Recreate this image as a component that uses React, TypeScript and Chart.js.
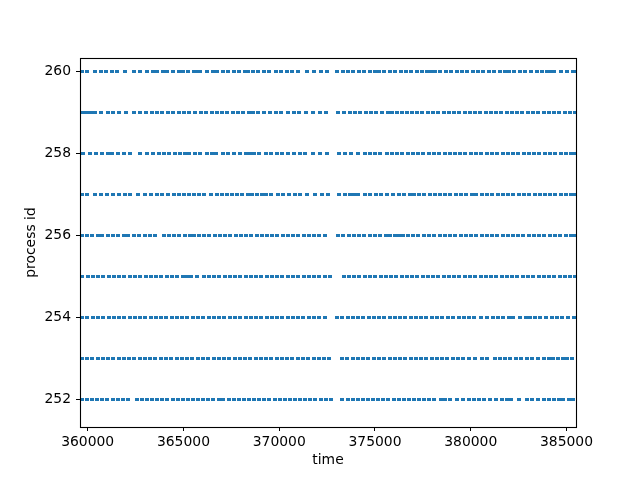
import React, { useEffect, useRef } from "react";
import { Chart, registerables } from "chart.js";

Chart.register(...registerables);

const X_MIN = 359598;
const X_MAX = 385496;
const Y_MIN = 251.32;
const Y_MAX = 260.33;
const X_TICKS = [360000, 365000, 370000, 375000, 380000, 385000];
const Y_TICKS = [252, 254, 256, 258, 260];
const X_LABEL = "time";
const Y_LABEL = "process id";
const MARK_COLOR = "#1f77b4";

const PID_260 = [359720, 359980, 360365, 360680, 360955, 361250, 361530, 361930, 362430, 362745, 363080, 363410, 363630, 363930, 364155, 364450, 364765, 364960, 365235, 365550, 365690, 365845, 366210, 366540, 366765, 367060, 367320, 367640, 367915, 368195, 368370, 368610, 368890, 369220, 369465, 369815, 370090, 370390, 370650, 370995, 371430, 371810, 372180, 372490, 373000, 373310, 373605, 373850, 374145, 374420, 374740, 375000, 375210, 375450, 375780, 376040, 376340, 376600, 376880, 377170, 377430, 377720, 377900, 378110, 378400, 378690, 378950, 379260, 379520, 379800, 380120, 380380, 380640, 380930, 381200, 381520, 381780, 381990, 382280, 382570, 382850, 383150, 383440, 383715, 383960, 384180, 384340, 384710, 385020, 385335, 385465];
const PID_259 = [359740, 359980, 360160, 360380, 360680, 361075, 361320, 361635, 362000, 362430, 362745, 363040, 363355, 363600, 363880, 364190, 364470, 364750, 365025, 365270, 365600, 365900, 366190, 366470, 366735, 367010, 367270, 367570, 367845, 368120, 368420, 368630, 368890, 369200, 369515, 369830, 370090, 370455, 370770, 371030, 371395, 371760, 372125, 372455, 373070, 373380, 373695, 373955, 374230, 374530, 374790, 375050, 375365, 375680, 375885, 376145, 376410, 376650, 376930, 377210, 377480, 377760, 378030, 378300, 378590, 378850, 379140, 379400, 379690, 379960, 380230, 380500, 380790, 381060, 381340, 381600, 381890, 382160, 382420, 382700, 382980, 383250, 383530, 383800, 384080, 384350, 384620, 384900, 385180, 385420];
const PID_258 = [359740, 360135, 360450, 360730, 361060, 361285, 361565, 361880, 362210, 362730, 363095, 363410, 363720, 363965, 364245, 364555, 364800, 365080, 365290, 365600, 365875, 366225, 366470, 366710, 367060, 367305, 367635, 367950, 368280, 368490, 368680, 368945, 369310, 369570, 369885, 370160, 370475, 370770, 371085, 371345, 371760, 372125, 372490, 373120, 373430, 373745, 374110, 374475, 374740, 375000, 375260, 375625, 375885, 376145, 376410, 376720, 376980, 377260, 377530, 377800, 378090, 378350, 378640, 378900, 379180, 379450, 379720, 380010, 380280, 380540, 380830, 381110, 381380, 381660, 381930, 382210, 382470, 382760, 383030, 383300, 383580, 383860, 384130, 384410, 384690, 384960, 385240, 385440];
const PID_257 = [359685, 359980, 360365, 360680, 361025, 361320, 361635, 361945, 362210, 362625, 363005, 363305, 363600, 363895, 364190, 364520, 364780, 365040, 365305, 365565, 365825, 366090, 366420, 366750, 367010, 367270, 367530, 367790, 368050, 368370, 368595, 368840, 369100, 369310, 369570, 369935, 370215, 370510, 370825, 371085, 371465, 371865, 372230, 372545, 373120, 373430, 373695, 373905, 374110, 374475, 374740, 375050, 375310, 375625, 375940, 376250, 376510, 376825, 377020, 377300, 377570, 377850, 378120, 378380, 378660, 378940, 379210, 379480, 379760, 380040, 380300, 380580, 380850, 381130, 381400, 381670, 381950, 382230, 382500, 382780, 383050, 383330, 383600, 383880, 384150, 384420, 384700, 384980, 385250, 385430];
const PID_256 = [359700, 359950, 360230, 360520, 360760, 361040, 361330, 361590, 361880, 362130, 362420, 362700, 362980, 363240, 363530, 363990, 364250, 364530, 364790, 365080, 365350, 365560, 365790, 366080, 366340, 366630, 366900, 367160, 367450, 367720, 367980, 368270, 368540, 368820, 369080, 369370, 369640, 369900, 370190, 370460, 370740, 370990, 371280, 371550, 371820, 372100, 372380, 373080, 373350, 373630, 373900, 374170, 374450, 374720, 375000, 375270, 375550, 375810, 376060, 376250, 376450, 376720, 377000, 377270, 377550, 377820, 378100, 378370, 378640, 378920, 379190, 379470, 379740, 380020, 380290, 380570, 380840, 381110, 381390, 381660, 381940, 382210, 382490, 382750, 383030, 383300, 383580, 383850, 384130, 384400, 384680, 384950, 385230, 385430];
const PID_255 = [359720, 360000, 360270, 360550, 360820, 361100, 361370, 361650, 361920, 362200, 362470, 362750, 363020, 363300, 363570, 363850, 364120, 364400, 364670, 364950, 365180, 365400, 365690, 366050, 366320, 366600, 366870, 367150, 367420, 367700, 367970, 368250, 368520, 368800, 369070, 369350, 369620, 369900, 370170, 370450, 370720, 371000, 371270, 371550, 371820, 372100, 372380, 372640, 373360, 373640, 373910, 374190, 374460, 374740, 375010, 375290, 375560, 375840, 376110, 376390, 376660, 376940, 377210, 377490, 377760, 378040, 378310, 378590, 378860, 379140, 379410, 379690, 379960, 380240, 380510, 380790, 381060, 381340, 381610, 381890, 382160, 382440, 382710, 382990, 383260, 383540, 383810, 384090, 384360, 384640, 384910, 385190, 385430];
const PID_254 = [359710, 359980, 360260, 360540, 360810, 361090, 361360, 361640, 361910, 362190, 362460, 362740, 363010, 363290, 363560, 363840, 364110, 364390, 364660, 364940, 365210, 365490, 365760, 366040, 366310, 366590, 366860, 367140, 367410, 367690, 367960, 368240, 368510, 368790, 369060, 369340, 369610, 369890, 370160, 370440, 370710, 370990, 371260, 371540, 371810, 372090, 372370, 373020, 373290, 373570, 373840, 374120, 374390, 374670, 374940, 375220, 375490, 375770, 376040, 376320, 376590, 376870, 377140, 377420, 377690, 377970, 378230, 378495, 378810, 379070, 379385, 379645, 379905, 380165, 380530, 380830, 381160, 381420, 381680, 381995, 382200, 382570, 382880, 383090, 383365, 383610, 383925, 384240, 384500, 384760, 385075, 385385];
const PID_253 = [359690, 359970, 360240, 360520, 360790, 361070, 361340, 361620, 361890, 362170, 362440, 362720, 362990, 363270, 363540, 363820, 364090, 364370, 364640, 364920, 365190, 365470, 365740, 366020, 366290, 366570, 366840, 367120, 367390, 367670, 367940, 368220, 368490, 368770, 369040, 369320, 369590, 369870, 370140, 370420, 370690, 370970, 371240, 371520, 371790, 372070, 372340, 372600, 373280, 373560, 373830, 374110, 374380, 374660, 374930, 375210, 375480, 375760, 376030, 376310, 376580, 376860, 377130, 377410, 377680, 377960, 378220, 378480, 378740, 379070, 379330, 379605, 379905, 380215, 380580, 380860, 381260, 381520, 381780, 382045, 382355, 382635, 382915, 383190, 383500, 383820, 384080, 384305, 384550, 384810, 385020, 385280];
const PID_252 = [359700, 359960, 360230, 360500, 360760, 361030, 361300, 361560, 361830, 362100, 362560, 362830, 363090, 363360, 363630, 363890, 364160, 364430, 364690, 364960, 365230, 365490, 365760, 366030, 366290, 366560, 366830, 367090, 367360, 367630, 367890, 368160, 368430, 368690, 368960, 369230, 369490, 369760, 370030, 370290, 370560, 370830, 371090, 371360, 371630, 371890, 372160, 372430, 372700, 373300, 373570, 373830, 374100, 374370, 374630, 374900, 375170, 375430, 375700, 375970, 376230, 376500, 376770, 377030, 377300, 377570, 377830, 378100, 378440, 378650, 378925, 379275, 379590, 379905, 380165, 380425, 380705, 381015, 381330, 381625, 381870, 382110, 382515, 382930, 383175, 383505, 383820, 384080, 384340, 384600, 384810, 385125, 385335];

const ROWS: [number, number[]][] = [
  [252, PID_252],
  [253, PID_253],
  [254, PID_254],
  [255, PID_255],
  [256, PID_256],
  [257, PID_257],
  [258, PID_258],
  [259, PID_259],
  [260, PID_260],
];

const FONT = { family: "'DejaVu Sans', sans-serif", size: 13.9, lineHeight: 1.2 };

export default function App() {
  const ref = useRef<HTMLCanvasElement | null>(null);

  useEffect(() => {
    if (!ref.current) return;
    const mark = document.createElement("canvas");
    mark.width = 4;
    mark.height = 3;
    const mctx = mark.getContext("2d")!;
    mctx.fillStyle = MARK_COLOR;
    mctx.fillRect(0, 0, 4, 3);

    const framePlugin = {
      id: "frame",
      afterDraw(chart: any) {
        const { ctx, chartArea } = chart;
        ctx.save();
        ctx.strokeStyle = "#000";
        ctx.lineWidth = 1.1;
        ctx.strokeRect(
          Math.round(chartArea.left) + 0.5,
          Math.round(chartArea.top) + 0.5,
          Math.round(chartArea.right - chartArea.left),
          Math.round(chartArea.bottom - chartArea.top)
        );
        ctx.restore();
      },
    };

    Chart.defaults.color = "#000";
    const chart = new Chart(ref.current, {
      type: "scatter",
      data: {
        datasets: ROWS.map(([pid, xs]) => ({
          label: String(pid),
          data: xs.map((x) => ({ x, y: pid })),
          pointStyle: mark as any,
          pointRadius: 2,
          pointHoverRadius: 2,
          backgroundColor: MARK_COLOR,
          borderColor: MARK_COLOR,
        })),
      },
      options: {
        responsive: false,
        animation: false,
        events: [],
        layout: { padding: { left: 0, top: 58, right: 64, bottom: 0 } },
        plugins: { legend: { display: false }, tooltip: { enabled: false } },
        scales: {
          x: {
            type: "linear",
            min: X_MIN,
            max: X_MAX,
            afterFit: (s: any) => {
              s.height = 53;
            },
            afterBuildTicks: (axis: any) => {
              axis.ticks = X_TICKS.map((v) => ({ value: v }));
            },
            border: { display: false },
            grid: {
              drawOnChartArea: false,
              drawTicks: true,
              tickLength: 4,
              tickColor: "#000",
              tickWidth: 1,
              color: "#000",
            },
            ticks: {
              padding: 3,
              maxRotation: 0,
              autoSkip: false,
              font: FONT,
              color: "#000",
              callback: (v: any) => String(v),
            },
            title: {
              display: true,
              text: X_LABEL,
              font: FONT,
              color: "#000",
              padding: { top: 0, bottom: 11 },
            },
          },
          y: {
            type: "linear",
            min: Y_MIN,
            max: Y_MAX,
            afterFit: (s: any) => {
              s.width = 80;
            },
            afterBuildTicks: (axis: any) => {
              axis.ticks = Y_TICKS.map((v) => ({ value: v }));
            },
            border: { display: false },
            grid: {
              drawOnChartArea: false,
              drawTicks: true,
              tickLength: 4,
              tickColor: "#000",
              tickWidth: 1,
              color: "#000",
            },
            ticks: {
              padding: 5,
              autoSkip: false,
              font: FONT,
              color: "#000",
              callback: (v: any) => String(v),
            },
            title: {
              display: true,
              text: Y_LABEL,
              font: FONT,
              color: "#000",
              padding: { top: 23, bottom: 0 },
            },
          },
        },
      },
      plugins: [framePlugin],
    });
    return () => chart.destroy();
  }, []);

  return (
    <div style={{ position: "fixed", left: 0, top: 0, width: 640, height: 480, background: "#fff" }}>
      <canvas ref={ref} width={640} height={480} style={{ display: "block", width: 640, height: 480 }} />
    </div>
  );
}
